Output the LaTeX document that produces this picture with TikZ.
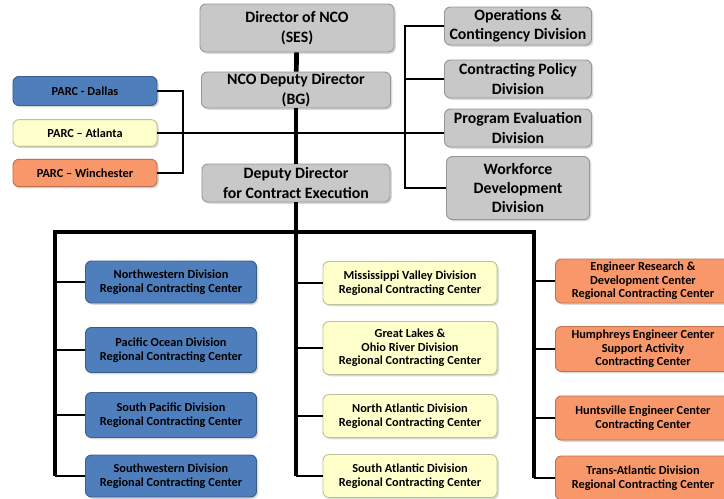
\documentclass[tikz,border=0pt]{standalone}
\usepackage{fontspec}
\setmainfont{Carlito}
\usetikzlibrary{shadows}
\definecolor{gris}{HTML}{C8C8C8}
\definecolor{bleu}{HTML}{4F7EBC}
\definecolor{jaune}{HTML}{FFFFCC}
\definecolor{saumon}{HTML}{F8986A}
\begin{document}
\begin{tikzpicture}[x=0.03cm,y=-0.03cm]
  \tikzstyle{lien}=[line width=1.7pt]
  \tikzstyle{tronc}=[line width=4pt,line join=miter]
\tikzset{poste/.style={draw=#1!75!black,fill=#1,line width=0.8pt,rounded corners=5pt,align=center,inner sep=1pt,
drop shadow={shadow xshift=1.5pt,shadow yshift=-1.5pt,opacity=0.3}},
poste/.default={gris},
grand/.style={font=\fontsize{13.5}{16.5}\selectfont\bfseries},
petit/.style={font=\fontsize{10.5}{11.7}\selectfont\bfseries}}
\useasboundingbox[clip] (0,0) rectangle (724,498);

% direction
\node[poste,grand,minimum width=5.82cm,minimum height=1.44cm] (dir) at (297,28) {Director of NCO\\(SES)};
\node[poste,grand,minimum width=5.67cm,minimum height=1.08cm] (adj) at (296,90) {NCO Deputy Director\\(BG)};
\node[poste,grand,minimum width=5.64cm,minimum height=1.14cm] (dce) at (296,183) {Deputy Director\\for Contract Execution};

% PARC
\node[poste=bleu,petit,minimum width=4.32cm,minimum height=0.87cm] (dallas) at (85,91) {PARC - Dallas};
\node[poste=jaune,petit,minimum width=4.32cm,minimum height=0.8cm] (atlanta) at (85,133) {PARC – Atlanta};
\node[poste=saumon,petit,minimum width=4.32cm,minimum height=0.82cm] (winch) at (85,173) {PARC – Winchester};

% divisions
\node[poste,grand,minimum width=4.41cm,minimum height=1.14cm] (ops) at (518,26) {Operations \&\\Contingency Division};
\node[poste,grand,minimum width=4.41cm,minimum height=1.14cm] (cpol) at (518,79) {Contracting Policy\\Division};
\node[poste,grand,minimum width=4.41cm,minimum height=1.14cm] (peval) at (518,128) {Program Evaluation\\Division};
\node[poste,grand,minimum width=4.29cm,minimum height=1.89cm] (wfd) at (518,188) {Workforce\\Development\\Division};

% centres regionaux
\node[poste=bleu,petit,minimum width=5.13cm,minimum height=1.26cm] (nwd) at (171,282) {Northwestern Division\\Regional Contracting Center};
\node[poste=bleu,petit,minimum width=5.13cm,minimum height=1.35cm] (pod) at (171,350) {Pacific Ocean Division\\Regional Contracting Center};
\node[poste=bleu,petit,minimum width=5.13cm,minimum height=1.35cm] (spd) at (171,415) {South Pacific Division\\Regional Contracting Center};
\node[poste=bleu,petit,minimum width=5.13cm,minimum height=1.26cm] (swd) at (171,476) {Southwestern Division\\Regional Contracting Center};

\node[poste=jaune,petit,minimum width=5.22cm,minimum height=1.29cm] (mvd) at (410,283) {Mississippi Valley Division\\Regional Contracting Center};
\node[poste=jaune,petit,minimum width=5.22cm,minimum height=1.59cm] (lrd) at (410,348) {Great Lakes \&\\Ohio River Division\\Regional Contracting Center};
\node[poste=jaune,petit,minimum width=5.22cm,minimum height=1.29cm] (nad) at (410,416) {North Atlantic Division\\Regional Contracting Center};
\node[poste=jaune,petit,minimum width=5.22cm,minimum height=1.29cm] (sad) at (410,476) {South Atlantic Division\\Regional Contracting Center};

\node[poste=saumon,petit,minimum width=5.25cm,minimum height=1.32cm] (erdc) at (643,281) {Engineer Research \&\\Development Center\\Regional Contracting Center};
\node[poste=saumon,petit,minimum width=5.25cm,minimum height=1.35cm] (hec) at (643,349) {Humphreys Engineer Center\\Support Activity\\Contracting Center};
\node[poste=saumon,petit,minimum width=5.25cm,minimum height=1.32cm] (hnc) at (643,418) {Huntsville Engineer Center\\Contracting Center};
\node[poste=saumon,petit,minimum width=5.25cm,minimum height=1.32cm] (tad) at (643,478) {Trans-Atlantic Division\\Regional Contracting Center};

\coordinate (pont) at (183,133);
\coordinate (barre) at (405,0);
\coordinate (bg) at (55,232);
\coordinate (bd) at (534,232);

% liaisons fines
\draw[lien] (dallas.east) -| (pont) |- (winch.east);
\draw[lien] (atlanta.east) -- (atlanta.east -| peval.west);
\draw[lien] (ops.west) -| (barre |- wfd.west) -- (wfd.west);
\draw[lien] (cpol.west) -- (cpol.west -| barre);
\foreach \n in {nwd,pod,spd,swd} \draw[lien] (bg |- \n.west) -- (\n.west);
\foreach \n in {mvd,lrd,nad,sad} \draw[lien] (dce |- \n.west) -- (\n.west);
\foreach \n in {erdc,hec,hnc,tad} \draw[lien] (bd |- \n.west) -- (\n.west);

% tronc
\draw[tronc] (dir) -- (adj);
\draw[tronc] (adj) -- (dce);
\draw[tronc] (dce.south) -- (dce |- swd.west);
\draw[tronc] (bg |- swd.west) -- (bg) -- (bd) -- (bd |- tad.west);
\end{tikzpicture}
\end{document}
